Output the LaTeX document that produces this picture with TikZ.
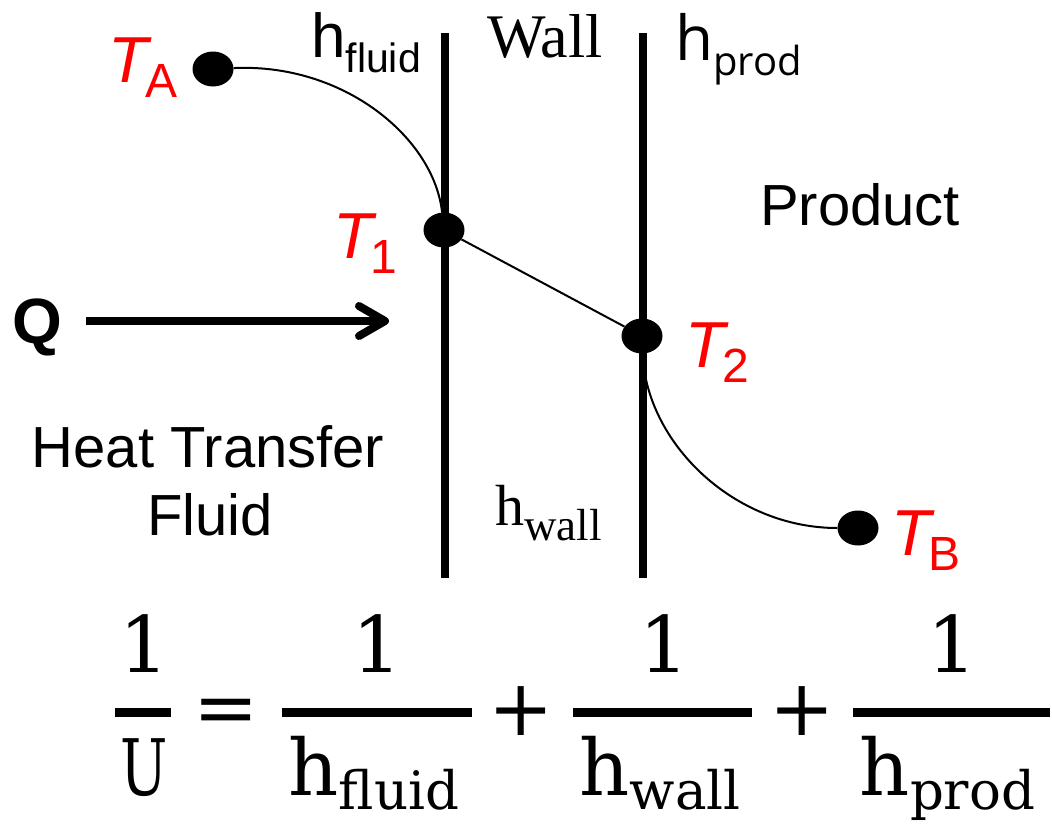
\documentclass[tikz,border=0pt]{standalone}
\usepackage{graphicx}
\usepackage{fontspec}
\setmainfont{Liberation Sans}
\newfontfamily\timesfont{Liberation Serif}
\newfontfamily\segfont{Open Sans}
\newfontfamily\eqfont{DejaVu Serif}
\usetikzlibrary{arrows.meta,shapes.geometric}
\newcommand{\fs}[1]{\fontsize{#1}{#1}\selectfont}
\newcommand{\tlabel}[1]{\textit{T}\kern-6pt\raisebox{-15pt}{\fs{48}#1}}
\newcommand{\hsub}[3]{h\raisebox{-#1}{\fs{#2}#3}}

\begin{document}
\begin{tikzpicture}[x=1pt,y=-1pt,
    dot/.style={ellipse,fill=black,inner sep=0pt,minimum width=41pt,minimum height=35pt},
    wall/.style={line width=8pt},
    profile/.style={line width=2pt},
    lbl/.style={anchor=base west,inner sep=0pt},
    tlbl/.style={lbl,text=red,font=\fs{65}},
    txt/.style={lbl,font=\fs{58}},
    eqtxt/.style={anchor=base,inner sep=0pt,font=\eqfont\fs{78}},
    fracbar/.style={line width=8.5pt},
    qarrow/.style={line width=8pt,-{Straight Barb[length=26pt,width=30pt,round]}}]
    \useasboundingbox (0,0) rectangle (1052,823);
    \draw[wall] (444.5,33) -- (444.5,578);
    \draw[wall] (643,33) -- (643,578);
    \node[dot] (TA) at (213,69) {};
    \node[dot] (T1) at (444,230) {};
    \node[dot] (T2) at (642,336) {};
    \node[dot] (TB) at (858,528) {};
    \draw[profile] (TA) .. controls (344,63) and (434,138) .. (T1);
    \draw[profile] (T1) -- (T2);
    \draw[profile] (T2) .. controls (646,442) and (733,528) .. (TB);
    \node[tlbl] (labA) at (108,82) {\tlabel{A}};
    \node[tlbl] (lab1) at (333,258) {\tlabel{1}};
    \node[tlbl] (lab2) at (685,367) {\tlabel{2}};
    \node[tlbl] (labB) at (891,555) {\tlabel{B}};
    \node[lbl,font=\fs{62}] (hfluid) at (311,57) {\hsub{15pt}{41}{fluid}};
    \node[lbl,font=\timesfont\fs{62}] (wallname) at (487,57) {Wall};
    \node[lbl,font=\segfont\fs{62}] (hprod) at (675,60) {\hsub{15pt}{40}{prod}};
    \node[lbl,font=\timesfont\fs{58}] (hwall) at (495,525) {\hsub{15pt}{45}{wall}};
    \node[txt] (product) at (760,225) {Product};
    \node[txt,anchor=base] (htf) at (208,467) {Heat Transfer};
    \node[txt,anchor=base] (fluid) at (210,535) {Fluid};
    \node[lbl,font=\bfseries\fs{64}] (Q) at (12,343) {Q};
    \coordinate (qstart) at (86,321);
    \coordinate (qend) at (389,321);
    \draw[qarrow] (qstart) -- (qend);
    \node[eqtxt] (num0) at (144,672) {1};
    \node[eqtxt] (den0) at (144,795) {\scalebox{.72}[1]{U}};
    \draw[fracbar] (115,712.5) -- (171,712.5);
    \node[eqtxt] (equals) at (226,734) {=};
    \node[eqtxt] (num1) at (377.5,672) {1};
    \node[eqtxt] (den1) at (374,795) {\hsub{14pt}{53}{fluid}};
    \draw[fracbar] (282,712.5) -- (472,712.5);
    \node[eqtxt] (plus1) at (521.5,735.5) {+};
    \node[eqtxt] (num2) at (664,672) {1};
    \node[eqtxt] (den2) at (660,795) {\hsub{14pt}{53}{wall}};
    \draw[fracbar] (573,712.5) -- (752,712.5);
    \node[eqtxt] (plus2) at (802.5,735.5) {+};
    \node[eqtxt] (num3) at (952.5,672) {1};
    \node[eqtxt] (den3) at (947.5,795) {\hsub{14pt}{53}{prod}};
    \draw[fracbar] (853,712.5) -- (1050,712.5);
\end{tikzpicture}
\end{document}
